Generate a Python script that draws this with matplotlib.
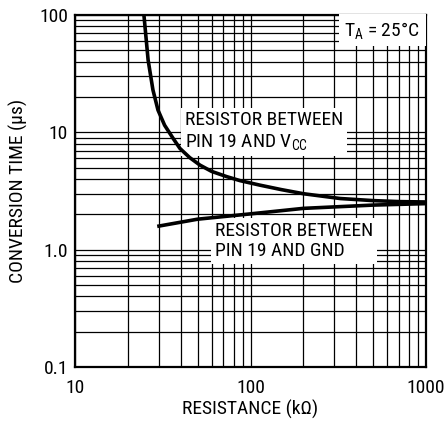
import matplotlib
matplotlib.use('Agg')
import matplotlib.pyplot as plt
from matplotlib import font_manager

# pick a condensed sans if there is one
installed = {f.name for f in font_manager.fontManager.ttflist}
fam = 'Liberation Sans'
for cand in ['Liberation Sans Narrow', 'Roboto Condensed', 'Open Sans Condensed', 'Roboto']:
    if cand in installed:
        fam = cand
        break
plt.rcParams['font.family'] = [fam, 'DejaVu Sans']
plt.rcParams['mathtext.fontset'] = 'custom'
plt.rcParams['mathtext.rm'] = fam
plt.rcParams['mathtext.it'] = fam

# Resistor between pin 19 and VCC
r_vcc = [24.7, 26.1, 27.8, 29.7, 32.4, 36.2, 39.6, 45, 51.5, 60, 73, 87, 113, 150, 200, 324, 500, 700, 1000]
t_vcc = [100, 41.3, 23, 15.5, 11.5, 8.9, 7.3, 6.1, 5.26, 4.65, 4.2, 3.88, 3.55, 3.25, 3.0, 2.73, 2.62, 2.57, 2.55]

# Resistor between pin 19 and GND
r_gnd = [29.4, 50, 100, 200, 500, 1000]
t_gnd = [1.58, 1.82, 2.02, 2.25, 2.4, 2.47]

x_ticks = [10, 100, 1000]
x_labels = ['10', '100', '1000']
y_ticks = [0.1, 1, 10, 100]
y_labels = ['0.1', '1.0', '10', '100']

fig = plt.figure(figsize=(4.45, 4.23), dpi=100)
ax = fig.add_axes([0.1685, 0.1324, 0.789, 0.832])

ax.plot(r_vcc, t_vcc, color='black', lw=2.6, solid_capstyle='butt', solid_joinstyle='round', zorder=4)
ax.plot(r_gnd, t_gnd, color='black', lw=2.6, solid_capstyle='butt', solid_joinstyle='round', zorder=4)

ax.set_xscale('log')
ax.set_yscale('log')
ax.set_xlim(10, 1000)
ax.set_ylim(0.1, 100)

ax.grid(True, which='both', color='black', lw=0.9)
ax.set_axisbelow(True)
ax.set_xticks(x_ticks)
ax.set_xticklabels(x_labels)
ax.set_yticks(y_ticks)
ax.set_yticklabels(y_labels)
ax.tick_params(which='both', length=0, labelsize=14, pad=5)
ax.tick_params(axis='x', pad=9)
for s in ax.spines.values():
    s.set_linewidth(1.6)

ax.set_xlabel('RESISTANCE (k\u03a9)', fontsize=14, labelpad=2)
ax.set_ylabel('CONVERSION TIME (\u00b5s)', fontsize=14, labelpad=8)

box = dict(facecolor='white', edgecolor='none', pad=3)
ax.text(0.313, 0.668, 'RESISTOR BETWEEN\nPIN 19 AND V$_{\\mathrm{CC}}$', transform=ax.transAxes,
        ha='left', va='center', fontsize=14, linespacing=1.2, bbox=box, zorder=3)
ax.text(0.399, 0.358, 'RESISTOR BETWEEN\nPIN 19 AND GND', transform=ax.transAxes,
        ha='left', va='center', fontsize=14, linespacing=1.2, bbox=box, zorder=3)
ax.text(0.983, 0.957, 'T$_{\\mathrm{A}}$ = 25\u00b0C', transform=ax.transAxes,
        ha='right', va='center', fontsize=14, bbox=dict(facecolor='white', edgecolor='none', pad=4), zorder=3)

fig.savefig('out.png', dpi=100)
